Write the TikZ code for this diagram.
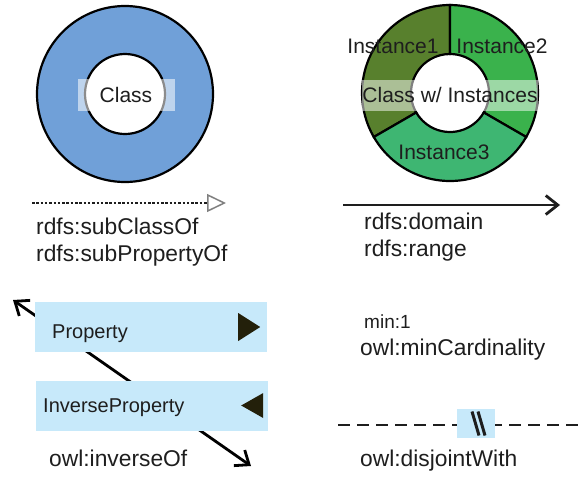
\documentclass[tikz,border=0pt]{standalone}
\usepackage{fontspec}
\setmainfont{Liberation Sans}
\usetikzlibrary{arrows.meta,positioning,calc}
\definecolor{classblue}{RGB}{112,160,216}
\definecolor{instone}{RGB}{88,128,45}
\definecolor{insttwo}{RGB}{58,178,76}
\definecolor{instthree}{RGB}{62,182,114}
\definecolor{propblue}{RGB}{199,233,250}
\definecolor{inkgray}{RGB}{30,30,30}
\definecolor{tipdark}{RGB}{35,32,10}

\begin{document}
\begin{tikzpicture}[x=1pt,y=1pt,
    ringline/.style={draw=black,line width=2.2pt},
    lbl/.style={anchor=base west,inner sep=0pt,text=inkgray,font=\fontsize{22.8}{27}\selectfont},
    ringlbl/.style={anchor=base,inner sep=0pt,text=inkgray,font=\fontsize{21}{25}\selectfont},
    propbox/.style={fill=propblue,minimum width=232pt,minimum height=50pt,inner sep=0pt},
    barb/.tip={Straight Barb[length=12pt,width=19pt,line width=2.8pt]}]
  \useasboundingbox (0,0) rectangle (580,-477);

  % class
  \node[circle,ringline,fill=classblue,minimum size=176pt,inner sep=0pt] (classring) at (125,-94) {};
  \node[circle,ringline,fill=white,minimum size=80pt,inner sep=0pt] (classhole) at (classring.center) {};
  \node[fill=white,fill opacity=0.55,text opacity=1,minimum width=97pt,minimum height=32pt,inner sep=0pt,
    text=inkgray,font=\fontsize{21}{25}\selectfont] (classlbl) at (126,-95) {Class};

  % class with instances
  \coordinate (instc) at (450,-93);
  \foreach \a/\b/\c in {90/210/instone,-30/90/insttwo,210/330/instthree}
    \filldraw[ringline,fill=\c] ($(instc)+(\a:39pt)$) -- ($(instc)+(\a:88pt)$)
      arc[start angle=\a,end angle=\b,radius=88pt] -- ($(instc)+(\b:39pt)$)
      arc[start angle=\b,end angle=\a,radius=39pt] -- cycle;
  \node[fill=white,fill opacity=0.5,text opacity=1,minimum width=175pt,minimum height=31pt,inner sep=0pt,
    text=inkgray,font=\fontsize{21}{25}\selectfont] (instlbl) at (450,-95) {Class w/ Instances};
  \node[ringlbl] (instone) at (393,-53) {Instance1};
  \node[ringlbl] (insttwo) at (502,-53) {Instance2};
  \node[ringlbl] (instthree) at (444,-159) {Instance3};

  % subclass / domain arrows
  \coordinate (subof-a) at (32,-203);
  \coordinate (subof-b) at (226,-203);
  \draw[inkgray,line width=2pt,dash pattern=on 2.5pt off 1.8pt,
    -{Triangle[open,length=19pt,width=18pt,line width=1.5pt,color=gray]}] (subof-a) -- (subof-b);
  \node[lbl] (subclass) at (36,-234) {rdfs:subClassOf};
  \node[lbl] (subprop) at (36,-261) {rdfs:subPropertyOf};

  \coordinate (dom-a) at (343,-205);
  \coordinate (dom-b) at (560,-205);
  \draw[inkgray,line width=1.6pt,-barb] (dom-a) -- (dom-b);
  \node[lbl] (domain) at (364,-229) {rdfs:domain};
  \node[lbl] (range) at (364,-256) {rdfs:range};

  % inverse properties
  \coordinate (inv-a) at (13,-300);
  \coordinate (inv-b) at (251,-466);
  \draw[black,line width=2.8pt,barb-barb] (inv-a) -- (inv-b);
  \node[propbox] (prop) at (151,-327) {};
  \node[propbox] (invprop) at (152,-405.5) {};
  \node[lbl,font=\fontsize{20}{24}\selectfont] (proplbl) at (52,-338) {Property};
  \node[lbl,font=\fontsize{20}{24}\selectfont] (invproplbl) at (43,-412) {InverseProperty};
  \fill[tipdark] ([xshift=-7pt]prop.east) -- ++(-22,14) -- ++(0,-28) -- cycle;
  \fill[tipdark] ([xshift=-27pt]invprop.east) -- ++(22,12.5) -- ++(0,-25) -- cycle;
  \node[lbl] (inverseof) at (49,-466) {owl:inverseOf};

  % cardinality
  \node[lbl,font=\fontsize{19}{23}\selectfont] (mincount) at (364,-328) {min:1};
  \node[lbl] (mincard) at (360,-355) {owl:minCardinality};

  % disjoint
  \coordinate (dis-a) at (338,-425);
  \coordinate (dis-b) at (580,-425);
  \draw[inkgray,line width=2.5pt,dash pattern=on 12pt off 7pt] (dis-a) -- (dis-b);
  \node[fill=propblue,minimum width=38pt,minimum height=29pt,inner sep=0pt] (disbox) at (476,-423.5) {};
  \foreach \dx in {0,6}
    \draw[inkgray,line width=3pt] ([shift={(\dx-4,12)}]disbox.center) -- ([shift={(\dx+3,-12)}]disbox.center);
  \node[lbl] (disjoint) at (360,-466) {owl:disjointWith};
\end{tikzpicture}
\end{document}
